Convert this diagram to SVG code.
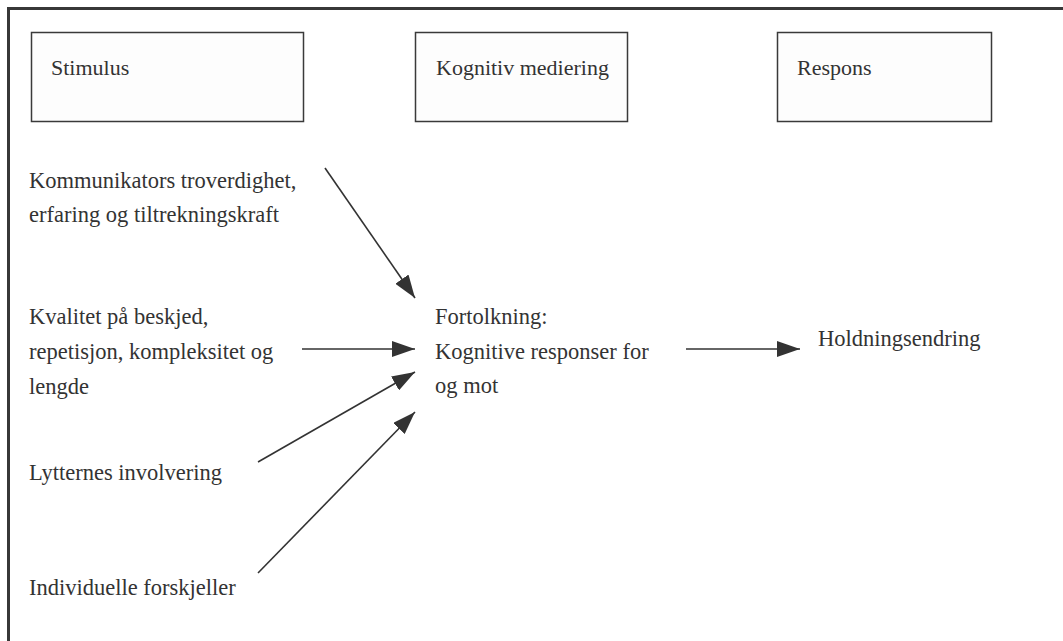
<svg xmlns="http://www.w3.org/2000/svg" width="1063" height="641" viewBox="0 0 1063 641">
<style>
.box{fill:#fdfdfd;stroke:#3a3a3a;stroke-width:1.5}
.h{font-size:22px}
.t{font-size:22.5px}
.c{stroke:#333;stroke-width:1.6;fill:none;marker-end:url(#ah)}
</style>
<defs>
<marker id="ah" markerUnits="userSpaceOnUse" markerWidth="24" markerHeight="16" refX="23" refY="8" orient="auto">
<path d="M0,0 L23,8 L0,16 Z" fill="#333"/>
</marker>
</defs>
<rect width="1063" height="641" fill="#fff"/>
<path d="M8.5,641 V8.5 H1063" fill="none" stroke="#383838" stroke-width="3"/>
<g font-family="Liberation Serif, serif" fill="#333">
<g id="stimulus"><rect class="box" x="31.5" y="32.5" width="272" height="89"/><text class="h" x="51" y="75">Stimulus</text></g>
<g id="kognitiv"><rect class="box" x="415.5" y="32.5" width="212" height="89"/><text class="h" x="436" y="75">Kognitiv mediering</text></g>
<g id="respons"><rect class="box" x="777.5" y="32.5" width="214" height="89"/><text class="h" x="797" y="75">Respons</text></g>
<g id="kommunikator"><text class="t" x="29" y="188">Kommunikators troverdighet,</text><text class="t" x="29" y="222">erfaring og tiltrekningskraft</text></g>
<g id="kvalitet"><text class="t" x="29" y="324">Kvalitet på beskjed,</text><text class="t" x="29" y="359">repetisjon, kompleksitet og</text><text class="t" x="29" y="394">lengde</text></g>
<g id="lytternes"><text class="t" x="29" y="480">Lytternes involvering</text></g>
<g id="individuelle"><text class="t" x="29" y="595">Individuelle forskjeller</text></g>
<g id="fortolkning"><text class="t" x="435" y="324">Fortolkning:</text><text class="t" x="435" y="359">Kognitive responser for</text><text class="t" x="435" y="393">og mot</text></g>
<g id="holdning"><text class="t" x="818" y="346">Holdningsendring</text></g>
</g>
<g id="connectors">
<line class="c" x1="325" y1="168" x2="415" y2="298"/>
<line class="c" x1="302" y1="349" x2="415" y2="349"/>
<line class="c" x1="258" y1="462" x2="415" y2="372"/>
<line class="c" x1="258" y1="573" x2="415" y2="412"/>
<line class="c" x1="686" y1="349" x2="800" y2="349"/>
</g>
</svg>
